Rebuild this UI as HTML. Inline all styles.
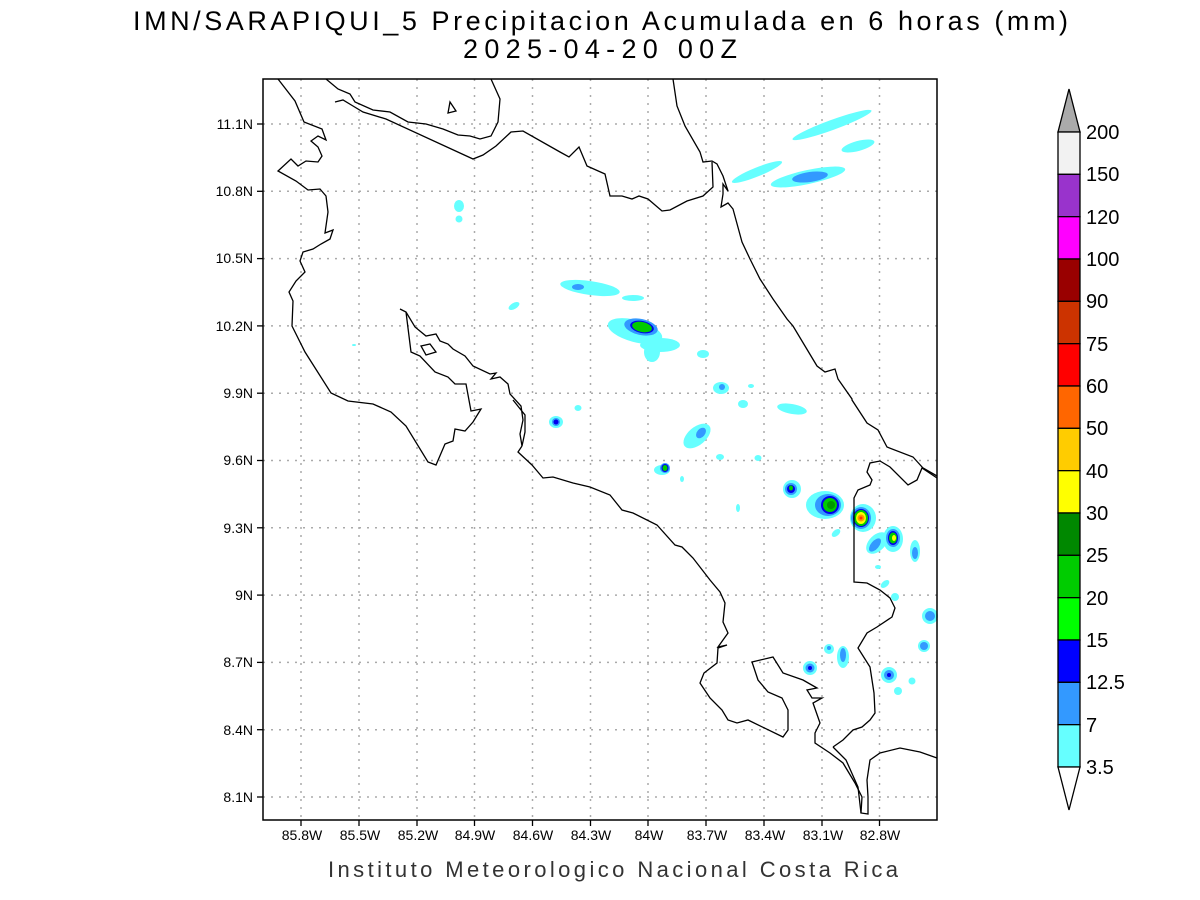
<!DOCTYPE html>
<html><head><meta charset="utf-8"><style>
html,body{margin:0;padding:0;background:#fff;}
svg{display:block;}
text{font-family:"Liberation Sans",sans-serif;}
</style></head><body>
<svg width="1200" height="900" viewBox="0 0 1200 900" xmlns="http://www.w3.org/2000/svg">
<rect width="1200" height="900" fill="#fff"/>
<text x="133" y="30" font-size="27" textLength="935" lengthAdjust="spacing" fill="#000">IMN/SARAPIQUI_5 Precipitacion Acumulada en 6 horas (mm)</text>
<text x="463" y="58" font-size="27" textLength="274" lengthAdjust="spacing" fill="#000">2025-04-20 00Z</text>

<g stroke="#aaa" stroke-width="1.5" stroke-dasharray="2,6">
<line x1="263" y1="124" x2="937" y2="124"/><line x1="263" y1="191.3" x2="937" y2="191.3"/>
<line x1="263" y1="258.6" x2="937" y2="258.6"/><line x1="263" y1="325.9" x2="937" y2="325.9"/>
<line x1="263" y1="393.2" x2="937" y2="393.2"/><line x1="263" y1="460.5" x2="937" y2="460.5"/>
<line x1="263" y1="527.8" x2="937" y2="527.8"/><line x1="263" y1="595.1" x2="937" y2="595.1"/>
<line x1="263" y1="662.4" x2="937" y2="662.4"/><line x1="263" y1="729.7" x2="937" y2="729.7"/>
<line x1="263" y1="797" x2="937" y2="797"/>
<line x1="301" y1="79" x2="301" y2="820"/><line x1="359" y1="79" x2="359" y2="820"/>
<line x1="417" y1="79" x2="417" y2="820"/><line x1="474.5" y1="79" x2="474.5" y2="820"/>
<line x1="532.5" y1="79" x2="532.5" y2="820"/><line x1="590.5" y1="79" x2="590.5" y2="820"/>
<line x1="648" y1="79" x2="648" y2="820"/><line x1="706" y1="79" x2="706" y2="820"/>
<line x1="764" y1="79" x2="764" y2="820"/><line x1="822" y1="79" x2="822" y2="820"/>
<line x1="879.5" y1="79" x2="879.5" y2="820"/>
</g>

<g>
<g fill="#66ffff">
<ellipse cx="832" cy="125" rx="42" ry="5" transform="rotate(-20 832 125)"/>
<ellipse cx="858" cy="146" rx="17" ry="5" transform="rotate(-15 858 146)"/>
<ellipse cx="757" cy="172" rx="27" ry="4.5" transform="rotate(-22 757 172)"/>
<ellipse cx="808" cy="177" rx="38" ry="7" transform="rotate(-12 808 177)"/>
<ellipse cx="459" cy="206" rx="5" ry="6"/><ellipse cx="459" cy="219" rx="3.5" ry="3.5"/>
<ellipse cx="514" cy="306" rx="6" ry="3" transform="rotate(-30 514 306)"/>
<ellipse cx="590" cy="288" rx="30" ry="7" transform="rotate(8 590 288)"/>
<ellipse cx="633" cy="298" rx="11" ry="3"/>
<ellipse cx="635" cy="331" rx="28" ry="11" transform="rotate(15 635 331)"/>
<ellipse cx="660" cy="345" rx="20" ry="7"/><ellipse cx="652" cy="352" rx="8" ry="10"/>
<ellipse cx="703" cy="354" rx="6" ry="4"/>
<ellipse cx="721" cy="388" rx="8" ry="6"/>
<ellipse cx="743" cy="404" rx="5" ry="4"/><ellipse cx="751" cy="386" rx="3" ry="2"/>
<ellipse cx="792" cy="409" rx="15" ry="5" transform="rotate(10 792 409)"/>
<ellipse cx="556" cy="422" rx="7" ry="6"/><ellipse cx="578" cy="408" rx="3.5" ry="3"/>
<ellipse cx="697" cy="436" rx="16" ry="9" transform="rotate(-40 697 436)"/>
<ellipse cx="720" cy="457" rx="4" ry="3"/><ellipse cx="758" cy="458" rx="3.5" ry="3"/>
<ellipse cx="662" cy="470" rx="8" ry="5"/><ellipse cx="682" cy="479" rx="2" ry="3"/>
<ellipse cx="792" cy="489" rx="9" ry="9"/>
<ellipse cx="738" cy="508" rx="2" ry="4"/>
<ellipse cx="825" cy="505" rx="19" ry="14"/>
<ellipse cx="836" cy="533" rx="5" ry="3" transform="rotate(-40 836 533)"/>
<ellipse cx="863" cy="518" rx="13" ry="14"/>
<ellipse cx="877" cy="543" rx="13" ry="8" transform="rotate(-45 877 543)"/>
<ellipse cx="893" cy="539" rx="10" ry="13"/>
<ellipse cx="915" cy="551" rx="5" ry="11"/>
<ellipse cx="878" cy="567" rx="3" ry="2"/><ellipse cx="885" cy="584" rx="5" ry="3" transform="rotate(-40 885 584)"/>
<ellipse cx="895" cy="597" rx="4" ry="4"/>
<ellipse cx="930" cy="616" rx="8" ry="8"/>
<ellipse cx="924" cy="646" rx="6" ry="6"/>
<ellipse cx="889" cy="675" rx="8" ry="8"/>
<ellipse cx="912" cy="681" rx="3.5" ry="3.5"/><ellipse cx="898" cy="691" rx="4" ry="4"/>
<ellipse cx="810" cy="668" rx="7" ry="7"/>
<ellipse cx="829" cy="649" rx="5" ry="5"/>
<ellipse cx="843" cy="657" rx="6" ry="11"/>
<ellipse cx="354" cy="345" rx="2" ry="1"/>
</g>
<g fill="#3399ff">
<ellipse cx="810" cy="177" rx="18" ry="5" transform="rotate(-8 810 177)"/>
<ellipse cx="578" cy="287" rx="6" ry="3"/>
<ellipse cx="641" cy="327" rx="17" ry="8" transform="rotate(12 641 327)"/>
<ellipse cx="722" cy="387" rx="3" ry="3"/>
<ellipse cx="701" cy="433" rx="6" ry="4" transform="rotate(-50 701 433)"/>
<ellipse cx="665" cy="468" rx="5" ry="5"/>
<ellipse cx="791" cy="489" rx="6" ry="6"/>
<ellipse cx="828" cy="505" rx="13" ry="11"/>
<ellipse cx="861" cy="518" rx="10" ry="11"/>
<ellipse cx="875" cy="545" rx="8" ry="4" transform="rotate(-50 875 545)"/>
<ellipse cx="893" cy="538" rx="7" ry="9"/>
<ellipse cx="915" cy="553" rx="3" ry="6"/>
<ellipse cx="930" cy="616" rx="5" ry="5"/><ellipse cx="924" cy="646" rx="4" ry="4"/>
<ellipse cx="889" cy="675" rx="5" ry="5"/><ellipse cx="810" cy="668" rx="4.5" ry="4.5"/>
<ellipse cx="843" cy="655" rx="3" ry="7"/><ellipse cx="556" cy="422" rx="4" ry="4"/>
<ellipse cx="829" cy="648" rx="2" ry="2"/>
</g>
<g fill="#0000ee">
<ellipse cx="642" cy="327" rx="12" ry="6" transform="rotate(12 642 327)"/>
<ellipse cx="665" cy="468" rx="3.5" ry="4"/><ellipse cx="791" cy="489" rx="4" ry="4"/>
<ellipse cx="830" cy="505" rx="9" ry="9"/><ellipse cx="861" cy="518" rx="8" ry="9"/>
<ellipse cx="893" cy="538" rx="5" ry="7"/><ellipse cx="556" cy="422" rx="2.5" ry="2.5"/>
<ellipse cx="889" cy="675" rx="2" ry="2"/><ellipse cx="810" cy="668" rx="2" ry="2"/>
</g>
<g fill="#00cc00">
<ellipse cx="642" cy="327" rx="10" ry="5" transform="rotate(12 642 327)"/>
<ellipse cx="665" cy="468" rx="2.5" ry="3"/><ellipse cx="791" cy="488" rx="2" ry="2.5"/>
<ellipse cx="830" cy="505" rx="7" ry="7"/><ellipse cx="861" cy="518" rx="7" ry="8"/>
<ellipse cx="893" cy="538" rx="4" ry="5.5"/>
</g>
<ellipse cx="831" cy="505" rx="4" ry="4" fill="#009900"/>
<ellipse cx="861" cy="518" rx="5" ry="6" fill="#ffff00"/>
<ellipse cx="894" cy="538" rx="2" ry="3" fill="#ffff00"/>
<ellipse cx="861" cy="518" rx="3.5" ry="3.5" fill="#ff9900"/>
<ellipse cx="861" cy="518" rx="1.5" ry="1.5" fill="#ff3300"/>
</g>

<g fill="none" stroke="#000" stroke-width="1.3">
<polyline points="278,79 295,101 304,122 322,129 326,140 318,136 311,141 318,147 322,156 318,162 306,161 298,166 291,159 278,171 296,181 308,190 320,189 326,196 328,212 325,233 333,230 330,239 321,244 313,249 303,252 300,261 305,272 296,281 289,292 293,301 292,326 305,352 331,393 348,401 373,404 391,412 406,426 428,462 436,465 445,444 453,441 455,429 465,431 473,422 481,409 471,411 466,384 455,384 448,377 435,372 420,356 411,352 406,312 400,309 406,312 415,327 426,336 436,334 440,341 448,344 453,349 465,356 473,366 490,374 496,373 491,379 500,377 508,384 510,394 521,406 523,420 520,434 522,446 525,432 525,415 513,400"/>
<polyline points="522,446 518,452 532,465 543,478 553,477 573,483 590,487 610,495 622,510 633,513 657,525 675,545 682,547 693,558 710,580 720,592 725,603 723,622 728,633 718,647 727,645 718,648 717,663 704,673 700,683 710,698 722,710 728,720 737,723 748,720 783,737 788,730 788,710 782,698 768,692 758,680 752,662 773,657 783,673 803,680 817,688 807,690 812,698 822,698 813,703 820,723 815,733 815,743 830,753 843,763 855,783 862,797 861,813 868,814 868,797 867,780 870,760 880,753 900,748 920,752 937,758"/>
<polyline points="833,747 843,740 853,730 862,727 870,720 875,713 874,693 870,667 858,648 867,633 877,627 892,617 895,608 890,598 880,590 867,583 854,582 854,498 858,490 870,485 872,480 867,472 870,463 880,461 890,467 908,485 917,480 922,468 937,478"/>
<polyline points="833,747 846,760 858,787 861,813"/>
<polyline points="326,79 338,89 350,94 355,102 373,110 390,112 408,122 426,124 443,129 458,135 470,136 480,139 491,136 498,122 500,99 491,79"/>
<polyline points="335,102 343,100 353,106 363,112 386,119 473,159 483,155 496,146 511,132 523,131 560,152 569,157 579,147 587,166 605,174 610,196 622,196 632,199 639,196 648,199 662,211 670,210 687,201 703,196 713,187 712,162"/>
<polyline points="673,79 677,106 685,126 700,152 703,162 712,161 717,164 723,176 728,191 723,184 723,194 721,207 728,203 733,209 742,242 750,259 760,279 773,299 787,319 793,326 817,366 825,372 835,369 838,379 852,399 852,400 867,423 878,430 887,447 913,457 923,468 937,476"/>
<polygon points="448,113 450,102 456,111"/>
<polygon points="421,346 430,344 436,352 426,355"/>
</g>

<rect x="263" y="79" width="674" height="741" fill="none" stroke="#000" stroke-width="1.5"/>
<g stroke="#000" stroke-width="1.3">
<line x1="257" y1="124" x2="263" y2="124"/><line x1="257" y1="191.3" x2="263" y2="191.3"/>
<line x1="257" y1="258.6" x2="263" y2="258.6"/><line x1="257" y1="325.9" x2="263" y2="325.9"/>
<line x1="257" y1="393.2" x2="263" y2="393.2"/><line x1="257" y1="460.5" x2="263" y2="460.5"/>
<line x1="257" y1="527.8" x2="263" y2="527.8"/><line x1="257" y1="595.1" x2="263" y2="595.1"/>
<line x1="257" y1="662.4" x2="263" y2="662.4"/><line x1="257" y1="729.7" x2="263" y2="729.7"/>
<line x1="257" y1="797" x2="263" y2="797"/>
<line x1="301" y1="820" x2="301" y2="826"/><line x1="359" y1="820" x2="359" y2="826"/>
<line x1="417" y1="820" x2="417" y2="826"/><line x1="474.5" y1="820" x2="474.5" y2="826"/>
<line x1="532.5" y1="820" x2="532.5" y2="826"/><line x1="590.5" y1="820" x2="590.5" y2="826"/>
<line x1="648" y1="820" x2="648" y2="826"/><line x1="706" y1="820" x2="706" y2="826"/>
<line x1="764" y1="820" x2="764" y2="826"/><line x1="822" y1="820" x2="822" y2="826"/>
<line x1="879.5" y1="820" x2="879.5" y2="826"/>
</g>
<g font-size="14" text-anchor="end" fill="#000">
<text x="253" y="129">11.1N</text><text x="253" y="196">10.8N</text><text x="253" y="263">10.5N</text>
<text x="253" y="331">10.2N</text><text x="253" y="398">9.9N</text><text x="253" y="465">9.6N</text>
<text x="253" y="533">9.3N</text><text x="253" y="600">9N</text><text x="253" y="667">8.7N</text>
<text x="253" y="735">8.4N</text><text x="253" y="802">8.1N</text>
</g>
<g font-size="14" text-anchor="middle" fill="#000">
<text x="302" y="840">85.8W</text><text x="360" y="840">85.5W</text><text x="418" y="840">85.2W</text>
<text x="475" y="840">84.9W</text><text x="533" y="840">84.6W</text><text x="591" y="840">84.3W</text>
<text x="649" y="840">84W</text><text x="707" y="840">83.7W</text><text x="765" y="840">83.4W</text>
<text x="823" y="840">83.1W</text><text x="880" y="840">82.8W</text>
</g>
<text x="328" y="877" font-size="22" textLength="570" lengthAdjust="spacing" fill="#333">Instituto Meteorologico Nacional Costa Rica</text>

<g stroke="#000" stroke-width="1.3">
<polygon points="1058,132 1080,132 1069,89" fill="#aaaaaa"/>
<rect x="1058" y="132" width="22" height="42.33" fill="#f2f2f2"/>
<rect x="1058" y="174.33" width="22" height="42.33" fill="#9933cc"/>
<rect x="1058" y="216.67" width="22" height="42.33" fill="#ff00ff"/>
<rect x="1058" y="259" width="22" height="42.33" fill="#990000"/>
<rect x="1058" y="301.33" width="22" height="42.33" fill="#cc3300"/>
<rect x="1058" y="343.67" width="22" height="42.33" fill="#ff0000"/>
<rect x="1058" y="386" width="22" height="42.33" fill="#ff6600"/>
<rect x="1058" y="428.33" width="22" height="42.33" fill="#ffcc00"/>
<rect x="1058" y="470.67" width="22" height="42.33" fill="#ffff00"/>
<rect x="1058" y="513" width="22" height="42.33" fill="#008800"/>
<rect x="1058" y="555.33" width="22" height="42.33" fill="#00cc00"/>
<rect x="1058" y="597.67" width="22" height="42.33" fill="#00ff00"/>
<rect x="1058" y="640" width="22" height="42.33" fill="#0000ff"/>
<rect x="1058" y="682.33" width="22" height="42.33" fill="#3399ff"/>
<rect x="1058" y="724.67" width="22" height="42.33" fill="#66ffff"/>
<polygon points="1058,767 1080,767 1069,810" fill="#fff"/>
</g>
<g font-size="20" fill="#000">
<text x="1086" y="139">200</text><text x="1086" y="181">150</text><text x="1086" y="224">120</text>
<text x="1086" y="266">100</text><text x="1086" y="308">90</text><text x="1086" y="351">75</text>
<text x="1086" y="393">60</text><text x="1086" y="435">50</text><text x="1086" y="478">40</text>
<text x="1086" y="520">30</text><text x="1086" y="562">25</text><text x="1086" y="605">20</text>
<text x="1086" y="647">15</text><text x="1086" y="689">12.5</text><text x="1086" y="732">7</text>
<text x="1086" y="774">3.5</text>
</g>
</svg>
</body></html>
